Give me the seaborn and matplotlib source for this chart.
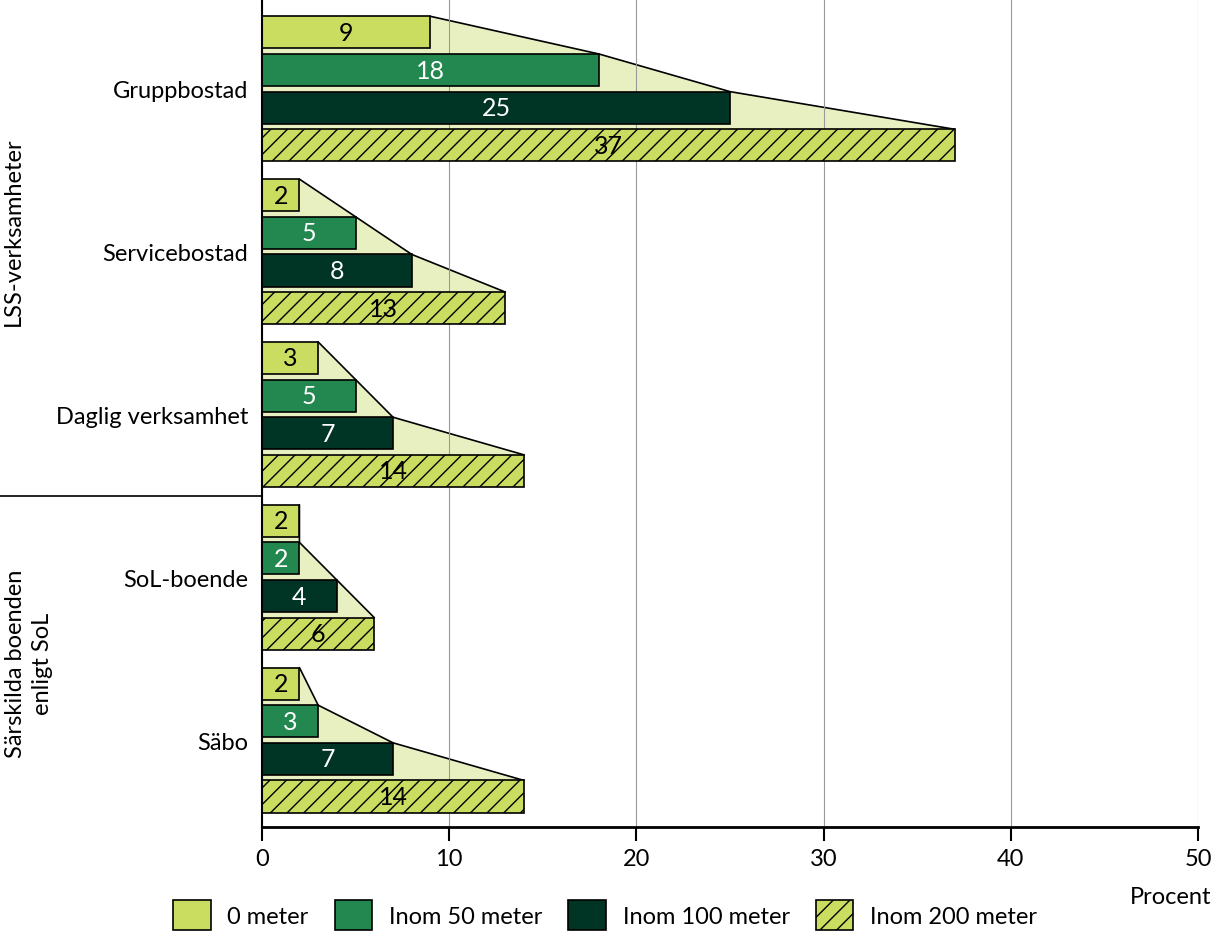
import pandas as pd
import matplotlib.pyplot as plt
import seaborn as sns
from matplotlib.patches import Patch, Polygon

# Data
categories = ['Gruppbostad', 'Servicebostad', 'Daglig verksamhet', 'SoL-boende', 'Säbo']
distances = ['0 meter', 'Inom 50 meter', 'Inom 100 meter', 'Inom 200 meter']
values = {
    '0 meter':        [9, 2, 3, 2, 2],
    'Inom 50 meter':  [18, 5, 5, 2, 3],
    'Inom 100 meter': [25, 8, 7, 4, 7],
    'Inom 200 meter': [37, 13, 14, 6, 14],
}
colors = ['#cadd60', '#23884f', '#003424', '#cadd60']
text_colors = ['black', 'white', 'white', 'black']
shade = '#e8f0c2'

def main():
    sns.set_theme(style='white')
    plt.rcParams['font.family'] = ['Lato', 'DejaVu Sans']
    plt.rcParams['text.color'] = 'black'
    plt.rcParams['xtick.color'] = 'black'
    plt.rcParams['ytick.color'] = 'black'
    plt.rcParams['hatch.linewidth'] = 1.0
    plt.rcParams['hatch.color'] = 'black'

    rows = []
    for d in distances:
        for c, v in zip(categories, values[d]):
            rows.append({'cat': c, 'dist': d, 'val': v})
    df = pd.DataFrame(rows)

    fig = plt.figure(figsize=(12.13, 9.37), dpi=100)
    ax = fig.add_axes([262 / 1213, 1 - 828 / 937, 936 / 1213, 828 / 937])

    sns.barplot(data=df, y='cat', x='val', hue='dist', order=categories,
                hue_order=distances, palette=colors, orient='h', width=0.925,
                gap=0.147, edgecolor='black', linewidth=1.2, saturation=1,
                legend=False, ax=ax)

    # group bars by hue level
    bars = [p for p in ax.patches]
    n = len(categories)
    by_level = [bars[i * n:(i + 1) * n] for i in range(len(distances))]
    for p in by_level[3]:
        p.set_hatch('//')

    # shaded "funnel" behind each group + value labels
    for j in range(n):
        group = [by_level[i][j] for i in range(len(distances))]
        pts = [(0, group[0].get_y())]
        edge = []
        for p in group:
            pts.append((p.get_width(), p.get_y()))
            edge.append((p.get_width(), p.get_y()))
        pts.append((0, group[-1].get_y()))
        ax.add_patch(Polygon(pts, closed=True, facecolor=shade, edgecolor='none', zorder=0.4))
        ex, ey = zip(*edge)
        ax.plot(ex, ey, color='black', lw=1.2, zorder=0.45)
        for i, p in enumerate(group):
            ax.text(p.get_width() / 2, p.get_y() + p.get_height() / 2,
                    str(values[distances[i]][j]), ha='center', va='center',
                    color=text_colors[i], fontsize=18, zorder=5)

    ax.set_xlim(0, 50)
    ax.set_ylim(4.534, -0.552)
    ax.set_xticks(range(0, 51, 10))
    ax.grid(axis='x', color='#999999', lw=0.8)
    ax.set_axisbelow(True)
    sns.despine(ax=ax, top=True, right=True)
    ax.spines['left'].set_color('black')
    ax.spines['left'].set_linewidth(1.5)
    ax.spines['bottom'].set_color('black')
    ax.spines['bottom'].set_linewidth(2)
    ax.tick_params(axis='x', bottom=True, length=10, width=1.5, color='black',
                   labelsize=17, pad=5, direction='out')
    ax.tick_params(axis='y', left=False, length=0, labelsize=17, pad=10)
    ax.set_xlabel('')
    ax.set_ylabel('')

    # group separator and group labels
    ax.plot([-262 / 936, 0], [2.5, 2.5], color='black', lw=1.2,
            transform=ax.get_yaxis_transform(), clip_on=False)
    fig.text(13 / 1213, 1 - 232 / 937, 'LSS-verksamheter', rotation=90,
             ha='center', va='center', fontsize=17)
    fig.text(29 / 1213, 1 - 664 / 937, 'Särskilda boenden\nenligt SoL', rotation=90,
             ha='center', va='center', fontsize=17, linespacing=1.3)

    fig.text(1211 / 1213, 1 - 898 / 937, 'Procent', ha='right', va='center', fontsize=17)

    handles = [Patch(facecolor=colors[i], edgecolor='black', lw=1.2,
                     hatch='//' if i == 3 else None, label=distances[i])
               for i in range(len(distances))]
    fig.legend(handles=handles, loc='center', bbox_to_anchor=(605 / 1213, 1 - 916 / 937),
               ncol=4, frameon=False, fontsize=17, handlelength=1.6, handleheight=1.6,
               handletextpad=0.7, columnspacing=1.1, borderpad=0)

    fig.savefig('out.png', dpi=100)
    plt.close(fig)

if __name__ == '__main__':
    main()
